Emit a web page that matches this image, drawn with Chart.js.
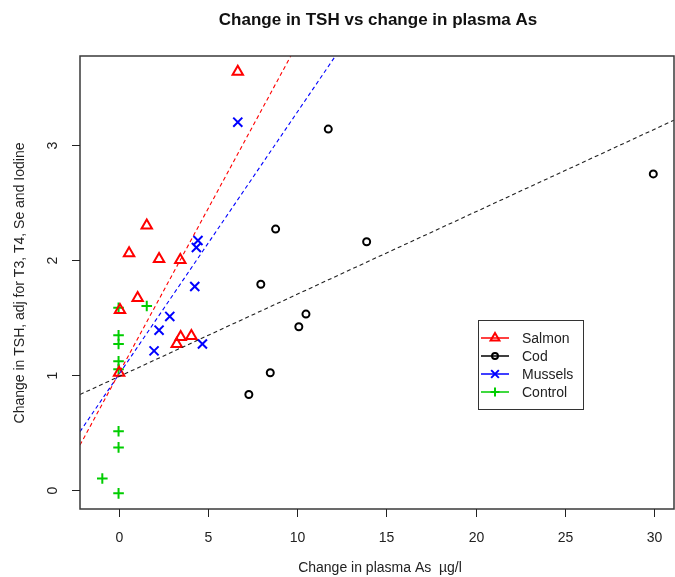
<!DOCTYPE html>
<html>
<head>
<meta charset="utf-8">
<script src="https://cdn.jsdelivr.net/npm/chart.js@4/dist/chart.umd.min.js"></script>
<style>
    html, body { margin: 0; padding: 0; background: #fff; overflow: hidden; }
    canvas { display: block; }
</style>
</head>
<body>
<canvas id="tsh_chart" width="675" height="577"></canvas>
<script>
// values
const salmonX = [6.68, 1.58, 0.59, 2.27, 3.46, 1.07, 0.08, 3.48, 4.08, 3.26, 0.03];
const salmonY = [3.64, 2.30, 2.06, 2.01, 2.00, 1.67, 1.565, 1.33, 1.34, 1.27, 1.02];

const codX = [7.30, 8.50, 10.10, 10.50, 7.97, 13.90, 8.80, 11.75, 29.96];
const codY = [0.83, 1.02, 1.42, 1.53, 1.79, 2.16, 2.27, 3.14, 2.75];

const musselsX = [6.68, 4.45, 4.36, 4.27, 2.87, 2.27, 4.70, 1.99];
const musselsY = [3.20, 2.17, 2.11, 1.77, 1.51, 1.39, 1.27, 1.21];

const controlX = [0, 1.58, 0, 0, 0, 0, 0, 0, -0.91, 0];
const controlY = [1.585, 1.60, 1.345, 1.27, 1.12, 1.05, 0.51, 0.37, 0.10, -0.03];

// fitted lines, end points read at the plot edges
const salmonFitX = [-2.16, 9.65];
const salmonFitY = [0.39, 3.776];
const codFitX = [-2.16, 31.12];
const codFitY = [0.83, 3.217];
const musselsFitX = [-2.16, 12.15];
const musselsFitY = [0.507, 3.776];

const xTicks = [0, 5, 10, 15, 20, 25, 30];
const yTicks = [0, 1, 2, 3];
const legendLabels = ['Salmon', 'Cod', 'Mussels', 'Control'];

const RED = '#ff0000', BLACK = '#000000', BLUE = '#0000ff', GREEN = '#00cd00';

function pts(xs, ys) {
    return xs.map((x, i) => ({x: x, y: ys[i]}));
}

function markerSet(label, xs, ys, color, style, r) {
    return {
        type: 'scatter',
        label: label,
        data: pts(xs, ys),
        pointStyle: style,
        pointRadius: r,
        pointBorderWidth: 2,
        borderColor: color,
        backgroundColor: 'rgba(0,0,0,0)',
        showLine: false
    };
}

function fitSet(xs, ys, color) {
    return {
        type: 'line',
        data: pts(xs, ys),
        borderColor: color,
        borderWidth: 1.1,
        borderDash: [4, 3],
        pointRadius: 0,
        fill: false,
        showLine: true
    };
}

const marks = [
    {color: RED, style: 'triangle', r: 6},
    {color: BLACK, style: 'circle', r: 3.5},
    {color: BLUE, style: 'crossRot', r: 6.4},
    {color: GREEN, style: 'cross', r: 5.3}
];

/* axes, box, titles and legend drawn in the R look */
const rFrame = {
    id: 'rFrame',
    afterDraw(chart) {
        const c = chart.ctx;
        const a = chart.chartArea;
        const sx = chart.scales.x, sy = chart.scales.y;
        c.save();

        c.strokeStyle = '#3a3a3a';
        c.lineWidth = 1.5;
        c.strokeRect(a.left, a.top, a.right - a.left, a.bottom - a.top);

        c.fillStyle = '#222';
        c.strokeStyle = '#222';
        c.lineWidth = 1;
        c.font = '14px "Liberation Sans", Arial, sans-serif';
        c.textAlign = 'center';
        c.textBaseline = 'middle';
        xTicks.forEach(v => {
            const px = Math.round(sx.getPixelForValue(v)) + 0.5;
            c.beginPath();
            c.moveTo(px, a.bottom);
            c.lineTo(px, a.bottom + 8);
            c.stroke();
            c.fillText(String(v), px, 538);
        });
        yTicks.forEach(v => {
            const py = Math.round(sy.getPixelForValue(v)) + 0.5;
            c.beginPath();
            c.moveTo(a.left, py);
            c.lineTo(a.left - 8, py);
            c.stroke();
            c.save();
            c.translate(53, py);
            c.rotate(-Math.PI / 2);
            c.fillText(String(v), 0, 0);
            c.restore();
        });

        // titles
        c.fillText('Change in plasma As  \u00b5g/l', 380, 568);
        c.save();
        c.translate(20, 283);
        c.rotate(-Math.PI / 2);
        c.fillText('Change in TSH, adj for T3, T4, Se and Iodine', 0, 0);
        c.restore();
        c.fillStyle = '#111';
        c.font = 'bold 17px "Liberation Sans", Arial, sans-serif';
        c.fillText('Change in TSH vs change in plasma As', 378, 20);

        // legend
        c.fillStyle = '#fff';
        c.fillRect(478, 320, 105, 89);
        c.strokeStyle = '#333';
        c.lineWidth = 1;
        c.strokeRect(478.5, 320.5, 105, 89);
        c.font = '14px "Liberation Sans", Arial, sans-serif';
        c.textAlign = 'left';
        const rows = [338, 356, 374, 392];
        legendLabels.forEach((lab, i) => {
            const m = marks[i];
            c.strokeStyle = m.color;
            c.lineWidth = 1.5;
            c.beginPath();
            c.moveTo(481, rows[i]);
            c.lineTo(509, rows[i]);
            c.stroke();
            c.fillStyle = 'rgba(0,0,0,0)';
            c.lineWidth = 2;
            Chart.helpers.drawPoint(c, {pointStyle: m.style, radius: m.r * 0.85, borderWidth: 2, rotation: 0}, 495, rows[i]);
            c.fillStyle = '#222';
            c.fillText(lab, 522, rows[i] + 1);
        });

        c.restore();
    }
};

const ctx = document.getElementById('tsh_chart');

new Chart(ctx, {
    data: {
        datasets: [
            fitSet(salmonFitX, salmonFitY, RED),
            fitSet(musselsFitX, musselsFitY, BLUE),
            fitSet(codFitX, codFitY, '#222'),
            markerSet('Salmon', salmonX, salmonY, marks[0].color, marks[0].style, marks[0].r),
            markerSet('Cod', codX, codY, marks[1].color, marks[1].style, marks[1].r),
            markerSet('Mussels', musselsX, musselsY, marks[2].color, marks[2].style, marks[2].r),
            markerSet('Control', controlX, controlY, marks[3].color, marks[3].style, marks[3].r)
        ]
    },
    options: {
        responsive: false,
        animation: false,
        layout: {
            autoPadding: false,
            padding: {left: 80, right: 1, top: 56, bottom: 68}
        },
        plugins: {
            legend: {display: false},
            title: {display: false},
            tooltip: {enabled: false}
        },
        scales: {
            x: {
                type: 'linear',
                display: false,
                min: -2.16,
                max: 31.12
            },
            y: {
                type: 'linear',
                display: false,
                min: -0.166,
                max: 3.776
            }
        }
    },
    plugins: [rFrame]
});
</script>
</body>
</html>
